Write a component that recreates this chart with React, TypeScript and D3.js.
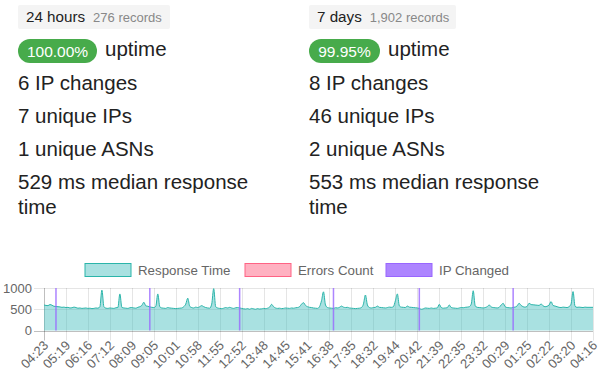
import React from 'react';
import * as d3 from 'd3';

const W = 600;
const H = 383;

// ---- summary data ----
const periods = ['24 hours', '7 days'];
const recordCounts = ['276 records', '1,902 records'];
const uptimes = ['100.00%', '99.95%'];
const ipChangeCounts = [6, 8];
const uniqueIPs = [7, 46];
const uniqueASNs = [1, 2];
const medianResponse = [529, 553];

// ---- chart data ----
const xLabels = [
  '04:23', '05:19', '06:16', '07:12', '08:09', '09:05', '10:01', '10:58', '11:55',
  '12:52', '13:48', '14:45', '15:41', '16:38', '17:35', '18:32', '19:44', '20:42',
  '21:39', '22:35', '23:32', '00:29', '01:25', '02:22', '03:20', '04:16',
];
const labelStep = 11;

const responseTime = [
  600, 590, 585, 610, 595, 570, 565, 560, 555, 545, 550,
  540, 545, 530, 535, 550, 540, 525, 530, 520, 525, 530,
  520, 525, 515, 520, 530, 525, 560, 950, 560, 525, 520,
  530, 525, 520, 535, 540, 860, 545, 530, 525, 520, 535,
  540, 530, 525, 545, 560, 590, 665, 580, 570, 555, 545,
  540, 570, 860, 560, 530, 525, 520, 540, 530, 525, 520,
  515, 520, 525, 530, 560, 620, 760, 570, 540, 530, 550,
  540, 560, 585, 560, 540, 530, 525, 620, 985, 560, 530,
  520, 515, 525, 540, 530, 545, 530, 520, 535, 540, 530,
  520, 510, 505, 515, 500, 520, 510, 500, 515, 505, 510,
  520, 515, 525, 550, 615, 560, 530, 520, 525, 515, 520,
  530, 525, 520, 530, 525, 535, 540, 560, 620, 655, 590,
  560, 545, 540, 530, 525, 520, 560, 700, 910, 600, 540,
  530, 525, 520, 535, 530, 545, 575, 550, 540, 545, 530,
  525, 520, 515, 520, 525, 540, 620, 835, 600, 540, 530,
  540, 545, 575, 545, 540, 535, 530, 540, 550, 545, 560,
  700, 860, 580, 550, 545, 540, 575, 550, 545, 540, 535,
  530, 520, 500, 510, 530, 525, 520, 530, 520, 525, 530,
  615, 540, 525, 530, 535, 600, 540, 530, 525, 520, 530,
  540, 535, 545, 550, 560, 620, 935, 580, 545, 540, 535,
  530, 540, 560, 600, 555, 540, 535, 530, 545, 600, 640,
  560, 540, 535, 530, 545, 550, 580, 640, 590, 560, 550,
  570, 640, 610, 605, 600, 595, 590, 625, 580, 560, 570,
  600, 680, 590, 575, 560, 545, 540, 550, 545, 540, 560,
  620, 915, 570, 545, 550, 545, 540, 550, 545, 545, 545,
  545,
];
const ipChangedIdx = [6, 53, 98, 145, 188, 235];
const yTicks = [0, 500, 1000];
const yMax = 1000;
const legendLabels = ['Response Time', 'Errors Count', 'IP Changed'];

const FONT = '"Liberation Sans", Arial, Helvetica, sans-serif';
const TEAL = 'rgb(43,181,170)';
const TEAL_FILL = 'rgba(75,192,192,0.48)';
const legendFill = ['rgba(75,192,192,0.48)', 'rgba(255,99,132,0.5)', 'rgba(153,102,255,0.8)'];
const legendStroke = [TEAL, 'rgb(255,99,132)', 'rgb(153,102,255)'];

export default function App() {
  const left = 44;
  const right = 593;
  const top = 288;
  const bottom = 330.5;

  const x = d3.scaleLinear().domain([0, responseTime.length - 1]).range([left, right]);
  const y = d3.scaleLinear().domain([0, yMax]).range([bottom, top]);

  const area = d3
    .area<number>()
    .x((_, i) => x(i))
    .y0(y(0))
    .y1((d) => y(d))
    .curve(d3.curveMonotoneX);
  const line = d3
    .line<number>()
    .x((_, i) => x(i))
    .y((d) => y(d))
    .curve(d3.curveMonotoneX);

  const colX = [18, 309];
  const boxW = [152, 147];
  const badgeW = [79, 71];

  const legendBoxX = [85, 245, 386];

  return (
    <div style={{ position: 'absolute', left: 0, top: 0 }}>
      <svg width={W} height={H} style={{ display: 'block', background: '#fff' }}>
        {/* summary columns */}
        {periods.map((p, k) => {
          const cx = colX[k];
          return (
            <g key={p} fontFamily={FONT}>
              <rect x={cx} y={5} width={boxW[k]} height={24} rx={2} fill="#f4f4f4" />
              <text x={cx + 8} y={22} fontSize={15.2} fill="#222">
                {p}
                <tspan dx={8} fontSize={13} fill="#888">{recordCounts[k]}</tspan>
              </text>
              <rect x={cx} y={39} width={badgeW[k]} height={24} rx={12} fill="#47ab4b" />
              <text x={cx + badgeW[k] / 2} y={56.5} fontSize={15.5} fill="#fff" textAnchor="middle">
                {uptimes[k]}
              </text>
              <text x={cx + badgeW[k] + 8} y={55.5} fontSize={20.5} fill="#222">uptime</text>
              <text x={cx} y={90} fontSize={20.5} fill="#222">{ipChangeCounts[k]} IP changes</text>
              <text x={cx} y={123} fontSize={20.5} fill="#222">{uniqueIPs[k]} unique IPs</text>
              <text x={cx} y={156} fontSize={20.5} fill="#222">{uniqueASNs[k]} unique ASNs</text>
              <text x={cx} y={189} fontSize={20.5} fill="#222">{medianResponse[k]} ms median response</text>
              <text x={cx} y={214} fontSize={20.5} fill="#222">time</text>
            </g>
          );
        })}

        {/* legend */}
        <g fontFamily={FONT} fontSize={13.3} fill="#666">
          {legendLabels.map((l, i) => (
            <g key={l}>
              <rect
                x={legendBoxX[i]}
                y={263.5}
                width={46}
                height={13}
                fill={legendFill[i]}
                stroke={legendStroke[i]}
                strokeWidth={1}
              />
              <text x={legendBoxX[i] + 53} y={274.5}>{l}</text>
            </g>
          ))}
        </g>

        {/* grid */}
        <g>
          {xLabels.map((_, i) => {
            const xx = Math.round(x(i * labelStep)) + 0.5;
            return (
              <line key={i} x1={xx} x2={xx} y1={top} y2={bottom + 10}
                stroke={i === 0 ? 'rgba(0,0,0,0.25)' : 'rgba(0,0,0,0.1)'} />
            );
          })}
          {yTicks.map((t) => {
            const yy = Math.round(y(t)) + 0.5;
            return (
              <line key={t} x1={left - 10} x2={right} y1={yy} y2={yy}
                stroke={t === 0 ? 'rgba(0,0,0,0.25)' : 'rgba(0,0,0,0.1)'} />
            );
          })}
        </g>

        {/* response time area */}
        <path d={area(responseTime) || ''} fill={TEAL_FILL} />
        <path d={line(responseTime) || ''} fill="none" stroke={TEAL} strokeWidth={1} />

        {/* IP changed bars */}
        {ipChangedIdx.map((idx) => (
          <rect key={idx} x={x(idx) - 0.75} width={1.5} y={y(yMax)} height={y(0) - y(yMax)}
            fill="rgba(153,102,255,0.8)" />
        ))}

        {/* y axis labels */}
        <g fontFamily={FONT} fontSize={13} fill="#666" textAnchor="end">
          {yTicks.map((t) => (
            <text key={t} x={32} y={y(t)} dy="0.35em">{t}</text>
          ))}
        </g>

        {/* x axis labels */}
        <g fontFamily={FONT} fontSize={13} fill="#666" textAnchor="end">
          {xLabels.map((l, i) => {
            const xx = x(i * labelStep);
            return (
              <text key={i} transform={`translate(${xx + 2},${343}) rotate(-45)`} dy="0.35em">{l}</text>
            );
          })}
        </g>
      </svg>
    </div>
  );
}
